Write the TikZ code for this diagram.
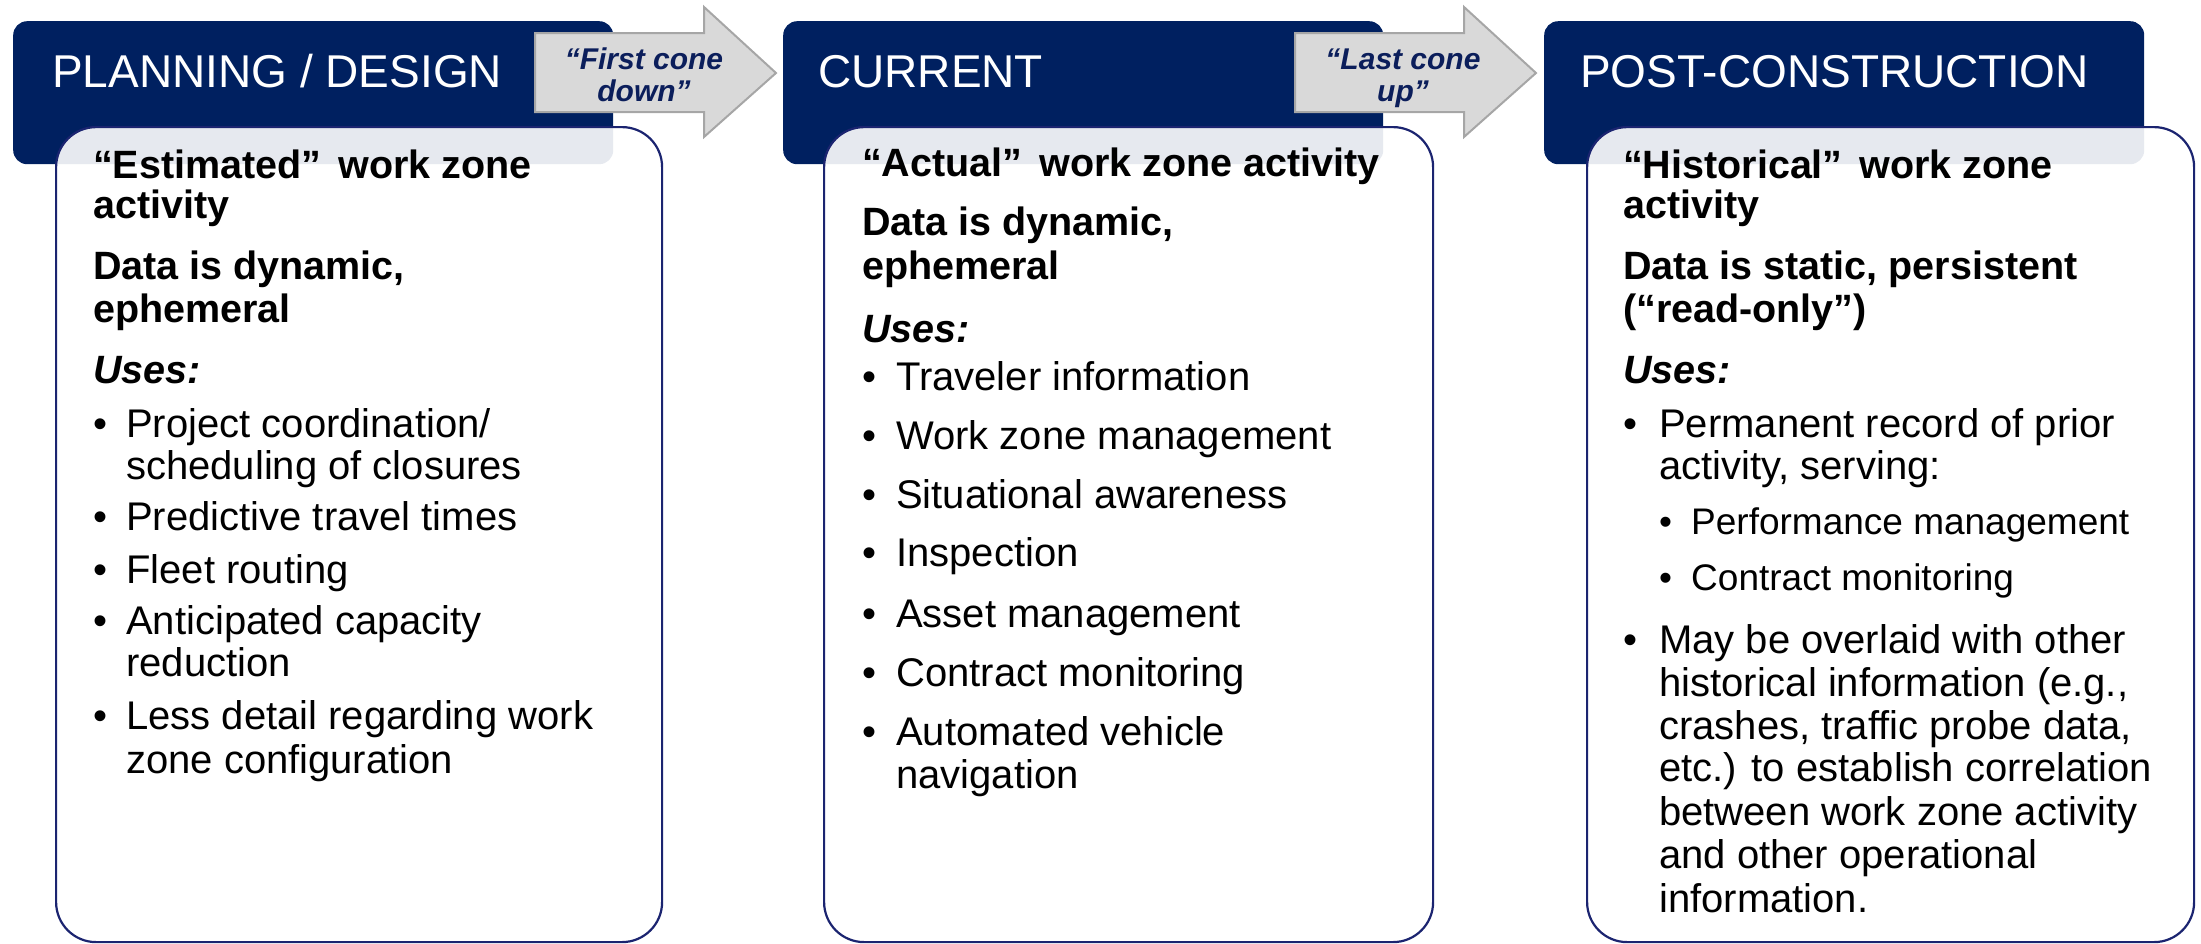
\documentclass[tikz,border=0pt]{standalone}
\usepackage{fontspec}
\setmainfont{Liberation Sans}
\definecolor{navy}{HTML}{002060}
\definecolor{arrowfill}{HTML}{D9D9D9}
\definecolor{arrowline}{HTML}{A6A6A6}
\definecolor{arrowtext}{HTML}{0B1E5B}
\definecolor{boxline}{HTML}{1B2470}
\begin{document}
\begin{tikzpicture}[x=1pt,y=-1pt,
  hdr/.style={fill=navy, rounded corners=14, anchor=north west, inner sep=0, minimum width=600, minimum height=143},
  card/.style={draw=boxline, line width=2.2, fill=white, fill opacity=0.9, rounded corners=40, anchor=north west, inner sep=0, minimum height=815},
  htxt/.style={text=white, font=\fontsize{46}{50}\selectfont, anchor=base west, inner sep=0},
  btxt/.style={font=\bfseries\fontsize{39.5}{43}\selectfont, anchor=base west, inner sep=0},
  itxt/.style={font=\bfseries\itshape\fontsize{39.5}{43}\selectfont, anchor=base west, inner sep=0},
  rtxt/.style={font=\fontsize{40}{43}\selectfont, anchor=base west, inner sep=0},
  stxt/.style={font=\fontsize{37}{40}\selectfont, anchor=base west, inner sep=0},
  arrowbody/.style={fill=arrowfill, draw=arrowline, line width=2, line join=miter},
  atxt/.style={text=arrowtext, font=\bfseries\itshape\fontsize{30}{32}\selectfont, anchor=base, inner sep=0}
]
\useasboundingbox (0,0) rectangle (2201,943);
% headers
\node[hdr] (h1) at (13,21) {};
\node[hdr] (h2) at (783,21) {};
\node[hdr] (h3) at (1544,21) {};
\node[htxt] (t1) at (52,87) {PLANNING / DESIGN};
\node[htxt] (t2) at (818,87) {CURRENT};
\node[htxt] (t3) at (1580,87) {POST-CONSTRUCTION};
% cards
\node[card, minimum width=606] (c1) at (55,126) {};
\node[card, minimum width=609] (c2) at (823,126) {};
\node[card, minimum width=607] (c3) at (1586,126) {};
% arrows
\draw[arrowbody] (535,33) -- (704,33) -- (704,7) -- (776,73) -- (704,137) -- (704,112) -- (535,112) -- cycle;
\node[atxt] (a1a) at (644,69) {“First cone};
\node[atxt] (a1b) at (644,101) {down”};
\draw[arrowbody] (1295,33) -- (1464,33) -- (1464,7) -- (1536,73) -- (1464,137) -- (1464,112) -- (1295,112) -- cycle;
\node[atxt] (a2a) at (1403,69) {“Last cone};
\node[atxt] (a2b) at (1403,101) {up”};
% box 1
\node[btxt] (p1) at (93,178) {“Estimated”\kern6pt\ work zone};
\node[btxt] (p2) at (93,218) {activity};
\node[btxt] (p3) at (93,279) {Data is dynamic,};
\node[btxt] (p4) at (93,322) {ephemeral};
\node[itxt] (p5) at (93,383) {Uses:};
\node[rtxt] (p6b) at (93,437) {•};
\node[rtxt] (p6) at (126,437) {Project coordination/};
\node[rtxt] (p7) at (126,479) {scheduling of closures};
\node[rtxt] (p8b) at (93,530) {•};
\node[rtxt] (p8) at (126,530) {Predictive travel times};
\node[rtxt] (p9b) at (93,583) {•};
\node[rtxt] (p9) at (126,583) {Fleet routing};
\node[rtxt] (p10b) at (93,634) {•};
\node[rtxt] (p10) at (126,634) {Anticipated capacity};
\node[rtxt] (p11) at (126,676) {reduction};
\node[rtxt] (p12b) at (93,729) {•};
\node[rtxt] (p12) at (126,729) {Less detail regarding work};
\node[rtxt] (p13) at (126,773) {zone configuration};
% box 2
\node[btxt] (q1) at (862,176) {“Actual”\kern6pt\ work zone activity};
\node[btxt] (q2) at (862,235) {Data is dynamic,};
\node[btxt] (q3) at (862,279) {ephemeral};
\node[itxt] (q4) at (862,342) {Uses:};
\node[rtxt] (q5b) at (862,390) {•};
\node[rtxt] (q5) at (896,390) {Traveler information};
\node[rtxt] (q6b) at (862,449) {•};
\node[rtxt] (q6) at (896,449) {Work zone management};
\node[rtxt] (q7b) at (862,508) {•};
\node[rtxt] (q7) at (896,508) {Situational awareness};
\node[rtxt] (q8b) at (862,566) {•};
\node[rtxt] (q8) at (896,566) {Inspection};
\node[rtxt] (q9b) at (862,627) {•};
\node[rtxt] (q9) at (896,627) {Asset management};
\node[rtxt] (q10b) at (862,686) {•};
\node[rtxt] (q10) at (896,686) {Contract monitoring};
\node[rtxt] (q11b) at (862,745) {•};
\node[rtxt] (q11) at (896,745) {Automated vehicle};
\node[rtxt] (q12) at (896,788) {navigation};
% box 3
\node[btxt] (r1) at (1623,178) {“Historical”\kern6pt\ work zone};
\node[btxt] (r2) at (1623,218) {activity};
\node[btxt] (r3) at (1623,279) {Data is static, persistent};
\node[btxt] (r4) at (1623,322) {(“read-only”)};
\node[itxt] (r5) at (1623,383) {Uses:};
\node[rtxt] (r6b) at (1623,437) {•};
\node[rtxt] (r6) at (1659,437) {Permanent record of prior};
\node[rtxt] (r7) at (1659,479) {activity, serving:};
\node[stxt] (r8b) at (1659,534) {•};
\node[stxt] (r8) at (1691,534) {Performance management};
\node[stxt] (r9b) at (1659,590) {•};
\node[stxt] (r9) at (1691,590) {Contract monitoring};
\node[rtxt] (r10b) at (1623,653) {•};
\node[rtxt] (r10) at (1659,653) {May be overlaid with other};
\node[rtxt] (r11) at (1659,696) {historical information (e.g.,};
\node[rtxt] (r12) at (1659,739) {crashes, traffic probe data,};
\node[rtxt] (r13) at (1659,781) {etc.) to establish correlation};
\node[rtxt] (r14) at (1659,825) {between work zone activity};
\node[rtxt] (r15) at (1659,868) {and other operational};
\node[rtxt] (r16) at (1659,912) {information.};
\end{tikzpicture}
\end{document}
